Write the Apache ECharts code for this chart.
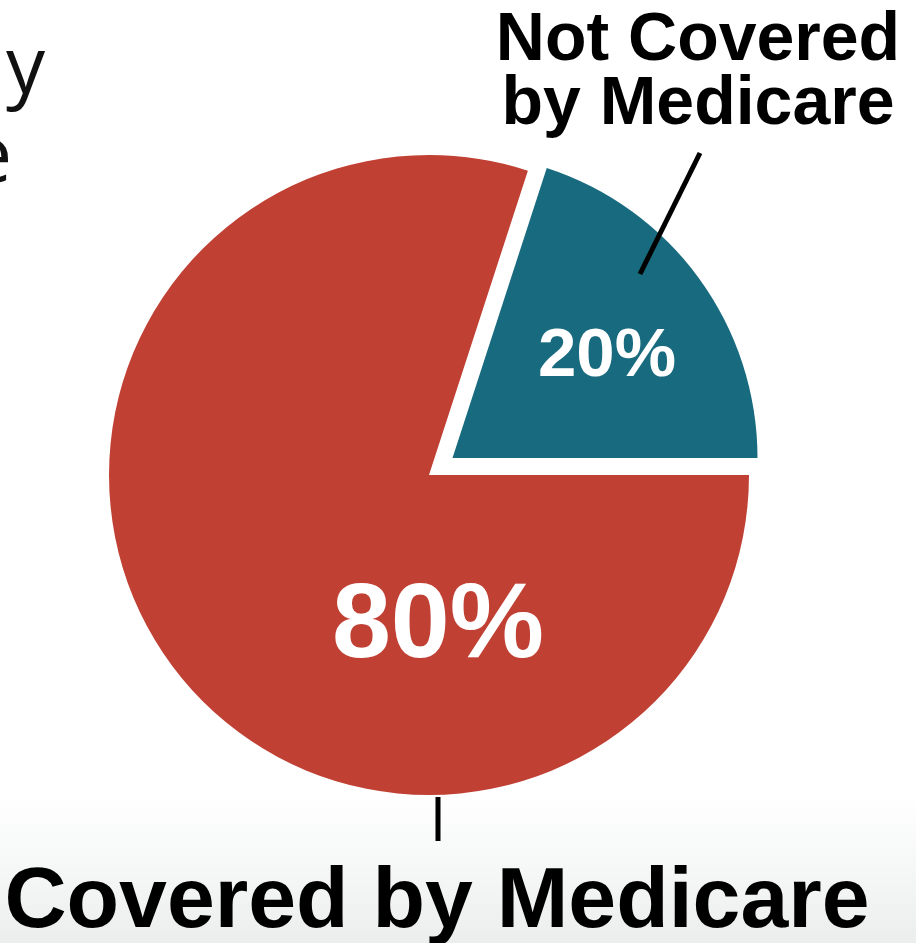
<!DOCTYPE html>
<html>
<head>
<meta charset="utf-8">
<title>Medicare coverage</title>
<script src="https://cdn.jsdelivr.net/npm/echarts@6/dist/echarts.min.js"></script>
<style>
  html, body { margin: 0; padding: 0; background: #fff; }
  #main { width: 916px; height: 943px; }
</style>
</head>
<body>
<div id="main"></div>
<script>
// chart data
let categories = ['Not Covered by Medicare', 'Covered by Medicare'];
let values = [20, 80];
let sliceColors = ['#186a7f', '#c14034'];
let outerLabels = ['Not Covered\nby Medicare', 'Covered by Medicare'];

let myChart = echarts.init(document.getElementById('main'));
let boldFont = '"Liberation Sans", Arial, Helvetica, sans-serif';

let total = values.reduce(function(a, b) { return a + b; }, 0);
let pct = values.map(function(v) { return Math.round(v / total * 100) + '%'; });

// one pie per slice so the pulled-out slice can be a bit smaller
function sliceData(keep) {
    return categories.map(function(name, i) {
        return {
            name: name,
            value: values[i],
            itemStyle: { color: i === keep ? sliceColors[i] : 'rgba(0,0,0,0)' }
        };
    });
}

let pieBase = {
    type: 'pie',
    startAngle: 72,
    clockwise: true,
    silent: true,
    label: { show: false },
    labelLine: { show: false },
    emphasis: { disabled: true },
    animation: false
};

let option = {
    backgroundColor: '#ffffff',
    series: [
        Object.assign({}, pieBase, {
            name: 'covered',
            center: [429, 475],
            radius: 320,
            data: sliceData(1)
        }),
        Object.assign({}, pieBase, {
            name: 'not covered',
            center: [452.5, 458],   // pulled out along the slice middle
            radius: 305,
            data: sliceData(0)
        })
    ],
    graphic: [
        // light grey band at the bottom of the slide
        {
            type: 'rect',
            z: -10,
            shape: { x: 0, y: 796, width: 916, height: 147 },
            style: {
                fill: new echarts.graphic.LinearGradient(0, 0, 0, 1, [
                    { offset: 0, color: '#ffffff' },
                    { offset: 1, color: '#eceeee' }
                ])
            }
        },
        // text cut off at the left edge of the slide
        {
            type: 'text',
            style: { text: 'y', x: 45, y: 71, textAlign: 'right', verticalAlign: 'middle',
                     font: '78px "Open Sans", sans-serif', fill: '#111111' }
        },
        {
            type: 'text',
            style: { text: 'e', x: 12, y: 160, textAlign: 'right', verticalAlign: 'middle',
                     font: '78px "Open Sans", sans-serif', fill: '#111111' }
        },
        // percentages inside the slices
        {
            type: 'text',
            z: 10,
            style: { text: pct[0], x: 607, y: 357, textAlign: 'center', verticalAlign: 'middle',
                     font: 'bold 69px ' + boldFont, fill: '#ffffff' }
        },
        {
            type: 'text',
            z: 10,
            style: { text: pct[1], x: 438, y: 628, textAlign: 'center', verticalAlign: 'middle',
                     font: 'bold 106px ' + boldFont, fill: '#ffffff' }
        },
        // outside labels and their lines
        {
            type: 'text',
            z: 10,
            style: { text: outerLabels[0], x: 698, y: 73, textAlign: 'center', verticalAlign: 'middle',
                     font: 'bold 68px ' + boldFont, lineHeight: 64, fill: '#000000' }
        },
        {
            type: 'line',
            z: 10,
            shape: { x1: 640, y1: 274, x2: 700, y2: 153 },
            style: { stroke: '#000000', lineWidth: 5 }
        },
        {
            type: 'text',
            z: 10,
            style: { text: outerLabels[1], x: 437, y: 903, textAlign: 'center', verticalAlign: 'middle',
                     font: 'bold 86px ' + boldFont, fill: '#000000' }
        },
        {
            type: 'line',
            z: 10,
            shape: { x1: 438, y1: 797, x2: 438, y2: 841 },
            style: { stroke: '#000000', lineWidth: 5 }
        }
    ]
};

myChart.setOption(option);

window.addEventListener('resize', function() {
    myChart.resize();
});
</script>
</body>
</html>
